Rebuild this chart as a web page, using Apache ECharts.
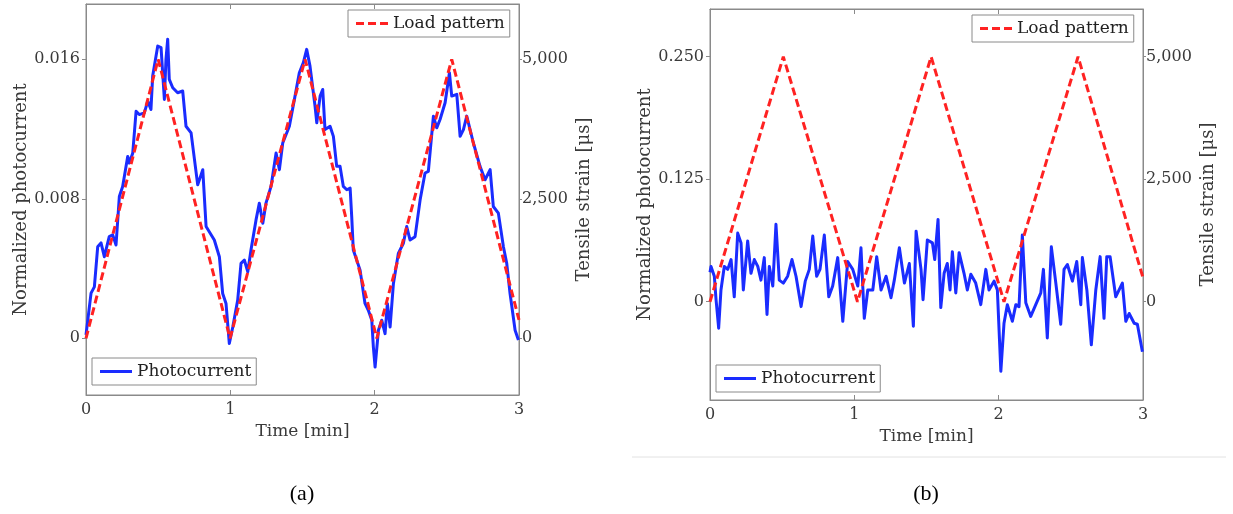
<!DOCTYPE html>
<html>
<head>
<meta charset="utf-8">
<script src="https://cdn.jsdelivr.net/npm/echarts@6/dist/echarts.min.js"></script>
<style>
  html, body { margin: 0; padding: 0; background: #fff; }
  #chart { width: 1233px; height: 514px; }
</style>
</head>
<body>
<div id="chart"></div>
<script>
// ---------- Data ----------
const xTicks = [0, 1, 2, 3];

// (a) photocurrent
const timeA = [0, 0.035, 0.058, 0.081, 0.104, 0.127, 0.161, 0.185, 0.208, 0.231, 0.254, 0.289, 0.300, 0.324, 0.347, 0.369, 0.404, 0.428, 0.450, 0.462, 0.497, 0.520, 0.543, 0.554, 0.566, 0.577, 0.601, 0.635, 0.670, 0.693, 0.728, 0.774, 0.809, 0.832, 0.889, 0.924, 0.947, 0.970, 0.993, 1.017, 1.051, 1.074, 1.097, 1.121, 1.143, 1.178, 1.201, 1.225, 1.247, 1.282, 1.317, 1.340, 1.363, 1.409, 1.444, 1.478, 1.506, 1.529, 1.552, 1.587, 1.599, 1.622, 1.640, 1.656, 1.691, 1.714, 1.737, 1.760, 1.783, 1.807, 1.830, 1.841, 1.852, 1.899, 1.933, 1.956, 1.980, 1.991, 2.003, 2.026, 2.049, 2.072, 2.088, 2.107, 2.130, 2.164, 2.199, 2.222, 2.245, 2.280, 2.315, 2.349, 2.372, 2.407, 2.430, 2.453, 2.488, 2.518, 2.534, 2.569, 2.592, 2.615, 2.638, 2.684, 2.730, 2.765, 2.800, 2.822, 2.857, 2.892, 2.915, 2.938, 2.973, 2.996];
const photoA = [0.0002, 0.00259, 0.00295, 0.00525, 0.00547, 0.00468, 0.00583, 0.00593, 0.00535, 0.00813, 0.00871, 0.01043, 0.01005, 0.01063, 0.01302, 0.01283, 0.01293, 0.0136, 0.01312, 0.01504, 0.01676, 0.01667, 0.0137, 0.016, 0.01715, 0.01485, 0.01437, 0.01408, 0.01418, 0.01216, 0.01178, 0.0088, 0.00967, 0.00641, 0.00564, 0.00468, 0.00257, 0.002, -0.0003, 0.00065, 0.00219, 0.0043, 0.00449, 0.00382, 0.00506, 0.00679, 0.00775, 0.0066, 0.00775, 0.00871, 0.01063, 0.00967, 0.0112, 0.01216, 0.0137, 0.01523, 0.01581, 0.01657, 0.01561, 0.01331, 0.01236, 0.01389, 0.01427, 0.01197, 0.01216, 0.01158, 0.00986, 0.00986, 0.00871, 0.00852, 0.00861, 0.00698, 0.00506, 0.00391, 0.002, 0.00161, 0.00104, -0.0005, -0.00165, 0.00046, 0.00104, 0.00027, 0.002, 0.00065, 0.00315, 0.00487, 0.00545, 0.00641, 0.00564, 0.00583, 0.00794, 0.00948, 0.00957, 0.01274, 0.01207, 0.01255, 0.01351, 0.01523, 0.01389, 0.01399, 0.01158, 0.01197, 0.01274, 0.0112, 0.00986, 0.00909, 0.00967, 0.00756, 0.00718, 0.00525, 0.0043, 0.00257, 0.00046, -0.0001];
// (a) load pattern
const loadTimeA = [0, 0.500, 0.998, 1.518, 2.015, 2.534, 3.0];
const loadA = [0, 5000, 0, 5000, 0, 5000, 330];

// (b) photocurrent
const timeB = [0, 0.007, 0.030, 0.042, 0.060, 0.076, 0.099, 0.123, 0.146, 0.168, 0.192, 0.215, 0.231, 0.261, 0.284, 0.307, 0.331, 0.353, 0.376, 0.395, 0.411, 0.435, 0.457, 0.480, 0.508, 0.538, 0.568, 0.596, 0.631, 0.660, 0.688, 0.712, 0.739, 0.762, 0.792, 0.823, 0.850, 0.885, 0.920, 0.954, 0.989, 1.024, 1.046, 1.069, 1.093, 1.128, 1.155, 1.185, 1.220, 1.254, 1.277, 1.312, 1.347, 1.381, 1.409, 1.428, 1.462, 1.476, 1.506, 1.541, 1.557, 1.580, 1.599, 1.622, 1.644, 1.663, 1.679, 1.703, 1.726, 1.760, 1.783, 1.807, 1.841, 1.876, 1.911, 1.933, 1.968, 1.991, 2.015, 2.037, 2.060, 2.095, 2.119, 2.141, 2.164, 2.188, 2.222, 2.257, 2.292, 2.310, 2.337, 2.365, 2.396, 2.430, 2.453, 2.476, 2.511, 2.541, 2.569, 2.580, 2.611, 2.642, 2.673, 2.703, 2.730, 2.749, 2.772, 2.811, 2.857, 2.881, 2.904, 2.939, 2.961, 2.996];
const photoB = [0.030, 0.036, 0.026, 0.002, -0.027, 0.012, 0.036, 0.033, 0.043, 0.005, 0.070, 0.060, 0.012, 0.062, 0.029, 0.043, 0.036, 0.022, 0.045, -0.013, 0.036, 0.016, 0.079, 0.022, 0.019, 0.026, 0.043, 0.026, -0.005, 0.021, 0.033, 0.067, 0.026, 0.033, 0.068, 0.005, 0.016, 0.045, -0.020, 0.041, 0.033, 0.016, 0.055, -0.017, 0.012, 0.012, 0.046, 0.012, 0.026, 0.004, 0.022, 0.055, 0.019, 0.039, -0.025, 0.072, 0.033, 0.002, 0.063, 0.060, 0.043, 0.084, -0.006, 0.029, 0.039, 0.012, 0.051, 0.009, 0.050, 0.029, 0.012, 0.028, 0.019, -0.003, 0.033, 0.012, 0.021, 0.012, -0.071, -0.022, -0.003, -0.020, -0.003, -0.005, 0.068, -0.001, -0.015, -0.003, 0.009, 0.033, -0.037, 0.056, 0.019, -0.023, 0.033, 0.038, 0.021, 0.041, -0.003, 0.045, 0.012, -0.044, 0.012, 0.046, -0.017, 0.046, 0.046, 0.005, 0.019, -0.020, -0.012, -0.022, -0.023, -0.051];
// (b) load pattern
const loadTimeB = [0, 0.508, 1.022, 1.532, 2.037, 2.550, 3.0];
const loadB = [0, 5000, 0, 5000, 0, 5000, 490];

// tick labels
const photoTicksA = [0, 0.008, 0.016];
const photoTicksB = [0, 0.125, 0.250];
const strainTicks = [0, 2500, 5000];

// ---------- Chart ----------
const zip = (xs, ys) => xs.map((x, i) => [x, ys[i]]);
const FONT = 'DejaVu Serif';
const AXIS_COLOR = '#8a8a8a';
const LABEL_COLOR = '#3a3a3a';
const BLUE = '#1a2cff';
const RED = '#ff2222';
const DASH_ICON = 'path://M0,0h8v3h-8zM12,0h8v3h-8zM24,0h8v3h-8z';
const SOLID_ICON = 'path://M0,0h32v3h-32z';

const fmtPhoto = v => (v === 0 ? '0' : v.toFixed(3));
const fmtStrain = v => (v === 0 ? '0' : v.toLocaleString('en-US'));

function xAxes(gridIndex) {
  return [
    {
      type: 'value', gridIndex, position: 'bottom', min: 0, max: 3, interval: 1,
      name: 'Time [min]', nameLocation: 'middle', nameGap: 27,
      nameTextStyle: { fontFamily: FONT, fontSize: 17, color: LABEL_COLOR },
      axisLine: { show: true, onZero: false, lineStyle: { color: AXIS_COLOR, width: 1 } },
      axisTick: { show: true, inside: true, length: 5, lineStyle: { color: AXIS_COLOR } },
      axisLabel: { show: true, margin: 7, fontFamily: FONT, fontSize: 16, color: LABEL_COLOR,
                   customValues: xTicks },
      splitLine: { show: false }
    },
    {
      type: 'value', gridIndex, position: 'top', min: 0, max: 3, interval: 1,
      axisLine: { show: true, onZero: false, lineStyle: { color: AXIS_COLOR, width: 1 } },
      axisTick: { show: true, inside: true, length: 5, lineStyle: { color: AXIS_COLOR } },
      axisLabel: { show: false },
      splitLine: { show: false }
    }
  ];
}

function yAxes(gridIndex, pMin, pMax, pTicks, sMin, sMax) {
  return [
    {
      type: 'value', gridIndex, position: 'left', min: pMin, max: pMax,
      name: 'Normalized photocurrent', nameLocation: 'middle', nameGap: 55,
      nameTextStyle: { fontFamily: FONT, fontSize: 18, color: LABEL_COLOR },
      axisLine: { show: true, onZero: false, lineStyle: { color: AXIS_COLOR, width: 1 } },
      axisTick: { show: true, inside: false, length: 4, customValues: pTicks, lineStyle: { color: AXIS_COLOR } },
      axisLabel: { show: true, margin: 6, fontFamily: FONT, fontSize: 16, color: LABEL_COLOR,
                   customValues: pTicks, formatter: fmtPhoto },
      splitLine: { show: false }
    },
    {
      type: 'value', gridIndex, position: 'right', min: sMin, max: sMax,
      name: 'Tensile strain [\u03bcs]', nameLocation: 'middle', nameGap: 56,
      nameTextStyle: { fontFamily: FONT, fontSize: 18, color: LABEL_COLOR },
      axisLine: { show: true, onZero: false, lineStyle: { color: AXIS_COLOR, width: 1 } },
      axisTick: { show: true, inside: false, length: 3, customValues: strainTicks, lineStyle: { color: AXIS_COLOR } },
      axisLabel: { show: true, margin: 3, fontFamily: FONT, fontSize: 16, color: LABEL_COLOR,
                   customValues: strainTicks, formatter: fmtStrain },
      splitLine: { show: false }
    }
  ];
}

function legend(name, icon, left, top) {
  return {
    data: [{ name, icon }], left, top, orient: 'horizontal',
    backgroundColor: '#ffffff', borderColor: AXIS_COLOR, borderWidth: 1, borderRadius: 0,
    padding: [5, 5, 5, 8], itemWidth: 32, itemHeight: 3, itemGap: 0,
    selectedMode: false,
    textStyle: { fontFamily: FONT, fontSize: 17, color: '#222' }
  };
}

const chart = echarts.init(document.getElementById('chart'), null, { renderer: 'canvas' });

const option = {
  animation: false,
  backgroundColor: '#ffffff',
  grid: [
    { left: 86, top: 4, width: 433, height: 391, show: true, borderColor: AXIS_COLOR, borderWidth: 1, backgroundColor: 'transparent' },
    { left: 710, top: 9, width: 433, height: 391, show: true, borderColor: AXIS_COLOR, borderWidth: 1, backgroundColor: 'transparent' }
  ],
  xAxis: [...xAxes(0), ...xAxes(1)],
  yAxis: [
    ...yAxes(0, -0.00325, 0.01917, photoTicksA, -1016, 5991),
    ...yAxes(1, -0.1003, 0.2987, photoTicksB, -2006, 5974)
  ],
  legend: [
    legend('Load pattern', DASH_ICON, 348, 10),
    legend('Photocurrent', SOLID_ICON, 92, 358),
    legend('Load pattern', DASH_ICON, 972, 15),
    legend('Photocurrent', SOLID_ICON, 716, 365)
  ],
  series: [
    {
      name: 'Photocurrent', type: 'line', xAxisIndex: 0, yAxisIndex: 0,
      data: zip(timeA, photoA), symbol: 'none', showSymbol: false,
      lineStyle: { color: BLUE, width: 3, join: 'round' }, itemStyle: { color: BLUE }, z: 2
    },
    {
      name: 'Load pattern', type: 'line', xAxisIndex: 0, yAxisIndex: 1,
      data: zip(loadTimeA, loadA), symbol: 'none', showSymbol: false,
      lineStyle: { color: RED, width: 3, type: [8, 4] }, itemStyle: { color: RED }, z: 3
    },
    {
      name: 'Photocurrent', type: 'line', xAxisIndex: 2, yAxisIndex: 2,
      data: zip(timeB, photoB), symbol: 'none', showSymbol: false,
      lineStyle: { color: BLUE, width: 3, join: 'round' }, itemStyle: { color: BLUE }, z: 2
    },
    {
      name: 'Load pattern', type: 'line', xAxisIndex: 2, yAxisIndex: 3,
      data: zip(loadTimeB, loadB), symbol: 'none', showSymbol: false,
      lineStyle: { color: RED, width: 3, type: [8, 4] }, itemStyle: { color: RED }, z: 3
    }
  ],
  graphic: [
    { type: 'line', shape: { x1: 632, y1: 457, x2: 1226, y2: 457 }, style: { stroke: '#e2e2e2', lineWidth: 1 } },
    { type: 'text', x: 302, y: 494, style: { text: '(a)', font: '22px "Liberation Serif"', fill: '#000', textAlign: 'center', textVerticalAlign: 'middle' } },
    { type: 'text', x: 926, y: 494, style: { text: '(b)', font: '22px "Liberation Serif"', fill: '#000', textAlign: 'center', textVerticalAlign: 'middle' } }
  ]
};

chart.setOption(option);
</script>
</body>
</html>
